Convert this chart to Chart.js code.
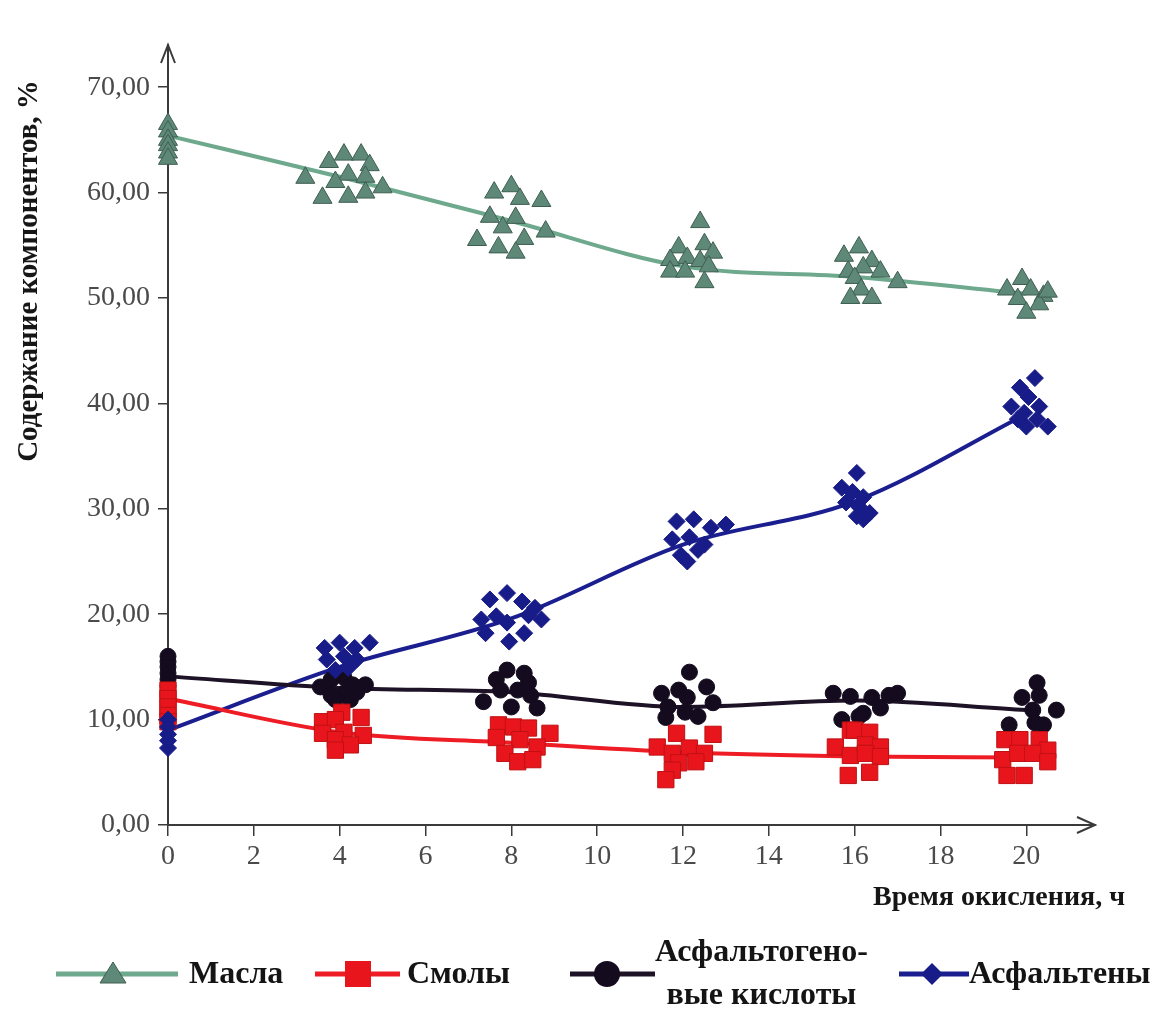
<!DOCTYPE html>
<html>
<head>
<meta charset="utf-8">
<script src="https://cdn.jsdelivr.net/npm/chart.js"></script>
<style>
    body { margin: 0; background: #fff; }
    #wrap { position: relative; width: 1155px; height: 1012px; }
    #chart { position: absolute; left: 0; top: 0; }
    .lg-text { position: absolute; font: bold 32px "Liberation Serif", "Times New Roman", serif; color: #141414; white-space: nowrap; line-height: 1; }
    .lg-mark { position: absolute; }
</style>
</head>
<body>
<div id="wrap">
    <canvas id="chart" width="1155" height="1012"></canvas>
    <div id="legend"></div>
</div>
<script>
// ось X (время окисления, ч) и ось Y (содержание, %)
const xTicks = [0, 2, 4, 6, 8, 10, 12, 14, 16, 18, 20];
const yTicks = [0, 10, 20, 30, 40, 50, 60, 70];

// точки тренда
const trendX = [0, 4, 8, 12, 16, 20];
const maslaTrend = [65.4, 61.5, 57.3, 53.0, 52.0, 50.4];
const smolyTrend = [12.0, 8.8, 7.8, 6.9, 6.5, 6.4];
const kislotyTrend = [14.1, 13.0, 12.6, 11.2, 11.8, 10.9];
const asfaltenyTrend = [9.0, 15.0, 19.6, 26.6, 30.7, 39.0];

// экспериментальные точки [x, y]
const maslaPts = [
    [0, 66.5], [0, 65.8], [0, 65.0], [0, 64.5], [0, 63.8], [0, 63.2],
    [3.2, 61.4], [3.75, 62.9], [4.1, 63.6], [4.5, 63.6], [4.7, 62.6], [4.2, 61.7],
    [4.6, 61.5], [3.9, 61.0], [5.0, 60.5], [3.6, 59.5], [4.2, 59.6], [4.6, 60.0],
    [7.6, 60.0], [8.0, 60.6], [8.2, 59.4], [8.7, 59.2], [7.5, 57.7], [8.1, 57.6],
    [7.8, 56.7], [8.3, 55.6], [8.8, 56.3], [7.2, 55.5], [7.7, 54.8], [8.1, 54.3],
    [12.4, 57.2], [11.9, 54.8], [12.5, 55.1], [12.7, 54.3], [12.1, 53.8], [11.7, 53.6],
    [12.4, 53.5], [11.7, 52.5], [12.05, 52.5], [12.6, 53.0], [12.5, 51.5],
    [16.1, 54.8], [15.75, 54.0], [16.4, 53.5], [16.2, 52.9], [16.6, 52.5], [15.85, 52.5],
    [16.0, 51.9], [16.15, 50.8], [15.9, 50.0], [16.4, 50.0], [17.0, 51.5],
    [19.9, 51.8], [19.55, 50.8], [20.1, 50.8], [20.4, 50.2], [19.8, 49.9], [20.3, 49.4],
    [20.0, 48.6], [20.5, 50.6]
];
const smolyPts = [
    [0, 12.8], [0, 12.0], [0, 11.2], [0, 10.4], [0, 9.8],
    [4.05, 10.7], [3.6, 9.8], [3.9, 10.0], [4.5, 10.2], [3.6, 8.7], [4.1, 8.8],
    [4.55, 8.5], [3.9, 8.1], [4.25, 7.6], [3.9, 7.1],
    [7.7, 9.5], [8.05, 9.3], [8.4, 9.2], [8.9, 8.7], [7.65, 8.3], [8.2, 8.1],
    [8.6, 7.4], [7.85, 6.8], [8.15, 6.0], [8.5, 6.2],
    [11.85, 8.7], [12.7, 8.6], [11.4, 7.4], [11.75, 6.8], [12.15, 7.3], [12.5, 6.8],
    [11.9, 5.9], [12.3, 6.0], [11.75, 5.2], [11.6, 4.3],
    [15.9, 9.0], [15.55, 7.4], [15.9, 6.6], [15.85, 4.7], [16.0, 9.0], [16.35, 8.8],
    [16.25, 7.6], [16.6, 7.4], [16.25, 6.8], [16.6, 6.5], [16.35, 5.0],
    [19.5, 8.1], [19.85, 8.1], [20.3, 8.1], [20.5, 7.1], [19.45, 6.2], [19.8, 6.8],
    [20.15, 6.8], [20.5, 6.0], [19.55, 4.7], [19.95, 4.7]
];
const kislotyPts = [
    [0, 16.0], [0, 15.5], [0, 15.0], [0, 14.4], [0, 13.8], [0, 13.2],
    [3.55, 13.1], [3.8, 13.8], [4.1, 14.0], [4.3, 13.3], [4.6, 13.3], [3.8, 12.3],
    [4.1, 12.5], [4.4, 12.6], [3.9, 11.9], [4.25, 11.9],
    [7.9, 14.7], [8.3, 14.4], [7.65, 13.8], [8.4, 13.5], [7.75, 12.8], [8.15, 12.8],
    [8.45, 12.3], [7.35, 11.7], [8.0, 11.2], [8.6, 11.1],
    [12.15, 14.5], [11.5, 12.5], [11.9, 12.8], [12.55, 13.1], [12.1, 12.1], [12.7, 11.6],
    [11.65, 11.2], [12.05, 10.7], [11.6, 10.2], [12.35, 10.3],
    [15.5, 12.5], [15.9, 12.2], [15.7, 10.0], [16.1, 10.3], [16.4, 12.1], [17.0, 12.5],
    [16.2, 10.6], [16.6, 11.1], [16.8, 12.3],
    [20.25, 13.5], [20.3, 12.3], [19.9, 12.1], [20.7, 10.9], [20.15, 10.9], [19.6, 9.5],
    [20.2, 9.7], [20.4, 9.5]
];
const asfaltenyPts = [
    [0, 10.0], [0, 9.3], [0, 8.6], [0, 8.0], [0, 7.3],
    [3.65, 16.8], [4.0, 17.3], [4.35, 16.8], [4.7, 17.3], [3.7, 15.7], [4.1, 16.0],
    [4.4, 15.7], [3.9, 14.7], [4.2, 14.9],
    [7.5, 21.4], [7.9, 22.0], [8.25, 21.2], [8.55, 20.6], [7.65, 19.8], [7.9, 19.2],
    [8.4, 19.9], [8.7, 19.5], [7.4, 18.2], [8.3, 18.2], [7.95, 17.4], [7.3, 19.5],
    [11.85, 28.8], [12.25, 29.0], [12.65, 28.2], [13.0, 28.5], [11.75, 27.1], [12.15, 27.3],
    [12.5, 26.6], [11.95, 25.6], [12.1, 25.0], [12.35, 26.1],
    [16.05, 33.4], [15.7, 32.0], [15.95, 31.6], [16.2, 31.1], [15.8, 30.6], [16.1, 30.2],
    [16.35, 29.6], [16.05, 29.3], [16.2, 29.0],
    [20.2, 42.4], [19.85, 41.5], [20.05, 40.6], [19.65, 39.7], [20.3, 39.7], [19.95, 39.1],
    [20.25, 38.5], [20.0, 37.8], [20.5, 37.8], [19.8, 38.5]
];

const seriesNames = ['Масла', 'Смолы', 'Асфальтогено-\nвые кислоты', 'Асфальтены'];

function toXY(pairs) {
    return pairs.map(p => ({ x: p[0], y: p[1] }));
}
function trendXY(values) {
    return trendX.map((x, i) => ({ x: x, y: values[i] }));
}

function lineSet(values, color) {
    return {
        data: trendXY(values),
        showLine: true,
        borderColor: color,
        borderWidth: 4,
        pointRadius: 0,
        cubicInterpolationMode: 'monotone',
        clip: false,
        order: 3
    };
}
function pointSet(pairs, style, radius, fill, edge, order) {
    return {
        data: toXY(pairs),
        pointStyle: style,
        pointRadius: radius,
        backgroundColor: fill,
        borderColor: edge,
        borderWidth: 1,
        clip: false,
        order: order
    };
}

// стрелки на концах осей и подписи осей
const axesPlugin = {
    id: 'axesExtra',
    afterDraw(chart) {
        const ctx = chart.ctx;
        const a = chart.chartArea;
        ctx.save();
        ctx.strokeStyle = '#3a3a3a';
        ctx.lineWidth = 2;
        ctx.beginPath();
        ctx.moveTo(a.right - 18, a.bottom - 8);
        ctx.lineTo(a.right, a.bottom);
        ctx.lineTo(a.right - 18, a.bottom + 8);
        ctx.moveTo(a.left - 7, a.top + 18);
        ctx.lineTo(a.left, a.top);
        ctx.lineTo(a.left + 7, a.top + 18);
        ctx.stroke();

        ctx.fillStyle = '#161616';
        ctx.font = 'bold 28px "Liberation Serif", serif';
        ctx.textAlign = 'right';
        ctx.textBaseline = 'middle';
        ctx.fillText('Время окисления, ч', 1125, 898);

        ctx.font = 'bold 29px "Liberation Serif", serif';
        ctx.translate(30, 271);
        ctx.rotate(-Math.PI / 2);
        ctx.textAlign = 'center';
        ctx.fillText('Содержание компонентов, %', 0, 0);
        ctx.restore();
    }
};

const ctx = document.getElementById('chart').getContext('2d');
const chart = new Chart(ctx, {
    type: 'scatter',
    data: {
        datasets: [
            lineSet(maslaTrend, '#6ea98e'),
            lineSet(smolyTrend, '#ee1c24'),
            lineSet(kislotyTrend, '#1d1226'),
            lineSet(asfaltenyTrend, '#1b1e8f'),
            pointSet(maslaPts, 'triangle', 11, '#5e8877', '#3f5e52', 2),
            pointSet(smolyPts, 'rect', 11.5, '#e8161c', '#c01014', 2),
            pointSet(kislotyPts, 'circle', 8, '#150b1f', '#150b1f', 2),
            pointSet(asfaltenyPts, 'rectRot', 8.5, '#181c88', '#181c88', 1)
        ]
    },
    options: {
        responsive: false,
        animation: false,
        layout: { padding: { left: 0, right: 60, top: 45, bottom: 0 } },
        plugins: { legend: { display: false }, tooltip: { enabled: false } },
        scales: {
            x: {
                type: 'linear',
                min: 0,
                max: 21.6,
                afterBuildTicks: s => { s.ticks = xTicks.map(v => ({ value: v })); },
                afterFit: s => { s.height = 187; },
                grid: { drawOnChartArea: false, drawTicks: true, tickLength: 11, color: '#3a3a3a', lineWidth: 1.5 },
                border: { display: true, color: '#3a3a3a', width: 2 },
                ticks: {
                    padding: 4,
                    color: '#4a4a4a',
                    font: { family: '"Liberation Serif", serif', size: 28 },
                    callback: v => String(v)
                }
            },
            y: {
                type: 'linear',
                min: 0,
                max: 74,
                afterBuildTicks: s => { s.ticks = yTicks.map(v => ({ value: v })); },
                afterFit: s => { s.width = 168; },
                grid: { drawOnChartArea: false, drawTicks: true, tickLength: 10, color: '#3a3a3a', lineWidth: 1.5 },
                border: { display: true, color: '#3a3a3a', width: 2 },
                ticks: {
                    padding: 8,
                    color: '#4a4a4a',
                    font: { family: '"Liberation Serif", serif', size: 28 },
                    callback: v => v.toFixed(2).replace('.', ',')
                }
            }
        }
    },
    plugins: [axesPlugin]
});

// легенда внизу
const legend = document.getElementById('legend');
const legendItems = [
    { line: [56, 178], mark: 113, color: '#6ea98e', fill: '#5e8877', shape: 'tri', text: [189, 956] },
    { line: [315, 400], mark: 358, color: '#ee1c24', fill: '#e8161c', shape: 'sq', text: [407, 956] },
    { line: [570, 655], mark: 607, color: '#1d1226', fill: '#150b1f', shape: 'dot', text: [655, 929], two: true },
    { line: [899, 969], mark: 932, color: '#1b1e8f', fill: '#181c88', shape: 'dia', text: [969, 956] }
];
legendItems.forEach((it, i) => {
    const w = it.line[1] - it.line[0];
    const cx = it.mark - it.line[0];
    let shape = '';
    if (it.shape === 'tri') shape = `<polygon points="${cx},3 ${cx + 13},24 ${cx - 13},24" fill="${it.fill}" stroke="#3f5e52"/>`;
    if (it.shape === 'sq') shape = `<rect x="${cx - 13}" y="2" width="26" height="26" fill="${it.fill}"/>`;
    if (it.shape === 'dot') shape = `<circle cx="${cx}" cy="15" r="13" fill="${it.fill}"/>`;
    if (it.shape === 'dia') shape = `<polygon points="${cx},4 ${cx + 11},15 ${cx},26 ${cx - 11},15" fill="${it.fill}"/>`;
    const m = document.createElement('div');
    m.className = 'lg-mark';
    m.style.left = it.line[0] + 'px';
    m.style.top = '959px';
    m.innerHTML = `<svg width="${w}" height="30"><line x1="0" y1="15" x2="${w}" y2="15" stroke="${it.color}" stroke-width="5"/>${shape}</svg>`;
    legend.appendChild(m);

    const t = document.createElement('div');
    t.className = 'lg-text';
    t.style.left = it.text[0] + 'px';
    t.style.top = it.text[1] + 'px';
    if (it.two) {
        t.style.lineHeight = '43px';
        t.style.textAlign = 'center';
        t.innerHTML = seriesNames[i].replace('\n', '<br>');
    } else {
        t.textContent = seriesNames[i];
    }
    legend.appendChild(t);
});
</script>
</body>
</html>
